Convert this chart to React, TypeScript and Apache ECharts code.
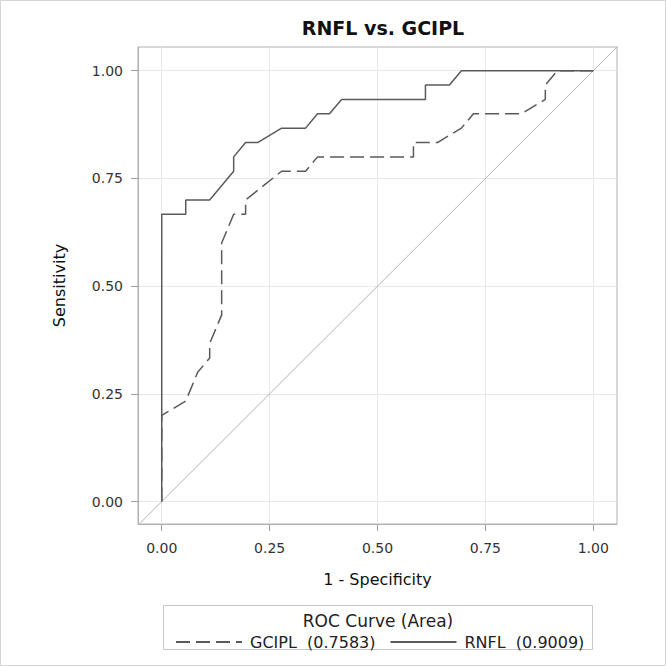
import React, { useEffect, useRef } from "react";
import * as echarts from "echarts";

const chartTitle = "RNFL vs. GCIPL";
const xAxisTitle = "1 - Specificity";
const yAxisTitle = "Sensitivity";
const legendTitle = "ROC Curve (Area)";
const tickValues = [0, 0.25, 0.5, 0.75, 1];

const seriesNames = ["GCIPL  (0.7583)", "RNFL  (0.9009)"];

const gciplFpr = [0, 0, 0.0556, 0.0833, 0.1111, 0.1111, 0.1389, 0.1389, 0.1667, 0.1944, 0.1944, 0.2778, 0.3333, 0.3611, 0.5833, 0.5833, 0.6389, 0.6944, 0.7222, 0.8333, 0.8889, 0.8889, 0.9167, 1];
const gciplTpr = [0, 0.2, 0.2333, 0.3, 0.3333, 0.3667, 0.4333, 0.6, 0.6667, 0.6667, 0.7, 0.7667, 0.7667, 0.8, 0.8, 0.8333, 0.8333, 0.8667, 0.9, 0.9, 0.9333, 0.9667, 1, 1];

const rnflFpr = [0, 0, 0.0556, 0.0556, 0.1111, 0.1667, 0.1667, 0.1944, 0.2222, 0.2778, 0.3333, 0.3611, 0.3889, 0.4167, 0.6111, 0.6111, 0.6667, 0.6944, 1];
const rnflTpr = [0, 0.6667, 0.6667, 0.7, 0.7, 0.7667, 0.8, 0.8333, 0.8333, 0.8667, 0.8667, 0.9, 0.9, 0.9333, 0.9333, 0.9667, 0.9667, 1, 1];

const diagonal = [-0.06, 1.06];

const FONT = "DejaVu Sans";

export default function App() {
  const ref = useRef<HTMLDivElement>(null);
  useEffect(() => {
    if (!ref.current) return;
    const chart = echarts.init(ref.current, null, { renderer: "svg" });
    const pairs = (xs: number[], ys: number[]) => xs.map((x, i) => [x, ys[i]]);
    const lineColor = "#5a5a5a";
    chart.setOption({
      animation: false,
      backgroundColor: "#ffffff",
      title: {
        text: chartTitle,
        left: 378,
        textAlign: "center",
        top: 13,
        textStyle: { fontFamily: FONT, fontSize: 19, fontWeight: "bold", color: "#111" },
      },
      grid: {
        left: 138,
        top: 47,
        width: 479,
        height: 477,
        show: true,
        borderColor: "#b0b0b0",
        borderWidth: 1,
        containLabel: false,
      },
      xAxis: {
        type: "value",
        min: -0.055,
        max: 1.055,
        interval: 0.25,
        name: xAxisTitle,
        nameLocation: "middle",
        nameGap: 47,
        nameTextStyle: { fontFamily: FONT, fontSize: 16, color: "#111" },
        axisLine: { show: true, onZero: false, lineStyle: { color: "#b0b0b0" } },
        axisTick: { show: true, length: 7, lineStyle: { color: "#a0a0a0" }, customValues: tickValues },
        axisLabel: {
          fontFamily: FONT,
          fontSize: 14,
          color: "#333",
          margin: 17,
          customValues: tickValues,
          formatter: (v: number) => v.toFixed(2),
        },
        splitLine: { show: true, lineStyle: { color: "#e8e8e8" } },
      },
      yAxis: {
        type: "value",
        min: -0.052,
        max: 1.055,
        name: yAxisTitle,
        nameLocation: "middle",
        nameGap: 71,
        nameRotate: 90,
        nameTextStyle: { fontFamily: FONT, fontSize: 16, color: "#111" },
        axisLine: { show: true, onZero: false, lineStyle: { color: "#b0b0b0" } },
        axisTick: { show: true, length: 7, lineStyle: { color: "#a0a0a0" }, customValues: tickValues },
        axisLabel: {
          fontFamily: FONT,
          fontSize: 14,
          color: "#333",
          margin: 15,
          customValues: tickValues,
          formatter: (v: number) => v.toFixed(2),
        },
        splitLine: { show: true, lineStyle: { color: "#e8e8e8" } },
      },
      legend: {
        left: 170,
        top: 629,
        itemWidth: 66,
        itemHeight: 10,
        itemGap: 14,
        data: seriesNames,
        itemStyle: { opacity: 0 },
        textStyle: { fontFamily: FONT, fontSize: 16, color: "#222", padding: [0, 0, 0, 3] },
      },
      graphic: [
        {
          type: "rect",
          shape: { x: 0.5, y: 0.5, width: 665, height: 665 },
          style: { fill: "none", stroke: "#d4d4d4", lineWidth: 1 },
          silent: true,
        },
        {
          type: "rect",
          shape: { x: 163.5, y: 605.5, width: 429, height: 44 },
          style: { fill: "none", stroke: "#c8c8c8", lineWidth: 1 },
          silent: true,
        },
        {
          type: "text",
          x: 378,
          y: 621,
          style: {
            text: legendTitle,
            fontFamily: FONT,
            fontSize: 17,
            fill: "#222",
            align: "center",
            verticalAlign: "middle",
          },
          silent: true,
        },
      ],
      series: [
        {
          name: "diagonal",
          type: "line",
          data: pairs(diagonal, diagonal),
          showSymbol: false,
          symbol: "none",
          lineStyle: { color: "#b4b4b4", width: 1 },
          silent: true,
          z: 1,
        },
        {
          name: seriesNames[0],
          type: "line",
          data: pairs(gciplFpr, gciplTpr),
          showSymbol: false,
          symbol: "none",
          lineStyle: { color: lineColor, width: 1.5, type: [14, 6] },
          itemStyle: { color: lineColor },
          z: 2,
        },
        {
          name: seriesNames[1],
          type: "line",
          data: pairs(rnflFpr, rnflTpr),
          showSymbol: false,
          symbol: "none",
          lineStyle: { color: lineColor, width: 1.5, type: "solid" },
          itemStyle: { color: lineColor },
          z: 3,
        },
      ],
    });
    return () => chart.dispose();
  }, []);
  return (
    <div
      ref={ref}
      style={{ position: "fixed", left: 0, top: 0, width: 666, height: 666, background: "#fff" }}
    />
  );
}
